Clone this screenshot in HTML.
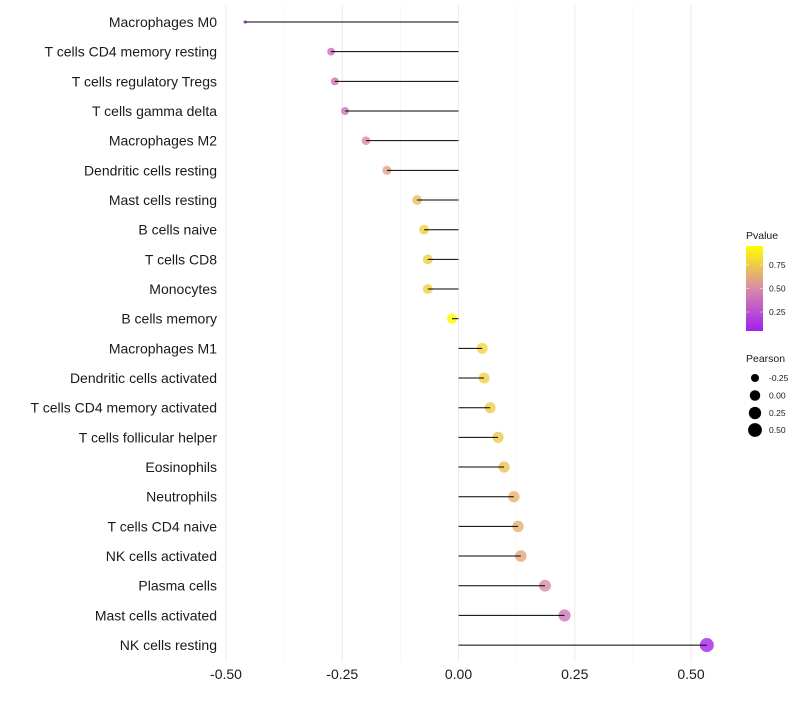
<!DOCTYPE html>
<html><head><meta charset="utf-8"><style>
body{margin:0;background:#fff;font-family:"Liberation Sans",sans-serif}
svg text{font-family:"Liberation Sans",sans-serif}
</style></head><body>
<svg id="chart" width="800" height="700">
<defs><linearGradient id="pg" x1="0" y1="1" x2="0" y2="0">
<stop offset="0" stop-color="#a020f0"/><stop offset="0.5" stop-color="#d98aa6"/><stop offset="1" stop-color="#ffff00"/></linearGradient></defs>
<g id="grid"></g><g id="dots"></g><g id="marks"></g><g id="labels"></g><g id="legend"></g>
</svg>
<script>
const categories=["Macrophages M0","T cells CD4 memory resting","T cells regulatory  Tregs ","T cells gamma delta","Macrophages M2","Dendritic cells resting","Mast cells resting","B cells naive","T cells CD8","Monocytes","B cells memory","Macrophages M1","Dendritic cells activated","T cells CD4 memory activated","T cells follicular helper","Eosinophils","Neutrophils","T cells CD4 naive","NK cells activated","Plasma cells","Mast cells activated","NK cells resting"];
const pearson=[-0.459,-0.274,-0.266,-0.244,-0.199,-0.154,-0.089,-0.074,-0.066,-0.066,-0.014,0.051,0.055,0.068,0.085,0.098,0.119,0.128,0.134,0.186,0.228,0.534];
const pvalue=[0.05,0.35,0.38,0.4,0.5,0.6,0.72,0.8,0.8,0.8,0.99,0.82,0.8,0.78,0.76,0.74,0.68,0.66,0.63,0.5,0.4,0.02];
const xTicks=[-0.5,-0.25,0,0.25,0.5];
const xTickLabels=["-0.50","-0.25","0.00","0.25","0.50"];
const ns="http://www.w3.org/2000/svg";
const X=v=>458.5+v*465;
const Y=i=>22+i*29.67;
const R=v=>1.5+5.5*Math.sqrt(Math.max(0,(v+0.46)/0.99));
function lerp(a,b,t){return a.map((x,k)=>Math.round(x+(b[k]-x)*t));}
function col(p){const s=[[160,32,240],[217,138,166],[255,255,0]];let c=p<0.5?lerp(s[0],s[1],p/0.5):lerp(s[1],s[2],(p-0.5)/0.5);return `rgb(${c})`;}
function mk(t,a,parent){const e=document.createElementNS(ns,t);for(const k in a)e.setAttribute(k,a[k]);document.getElementById(parent).appendChild(e);return e;}
for(let v=-0.5;v<=0.5001;v+=0.125){const l=mk('line',{x1:X(v),x2:X(v),y1:5,y2:662,stroke:Math.abs((v*4)%1)<1e-6?'#ebebeb':'#f4f4f4','stroke-width':Math.abs((v*4)%1)<1e-6?1:0.6},'grid');

}
xTicks.forEach((v,i)=>{const t=mk('text',{x:X(v),y:679,'text-anchor':'middle','font-size':14,fill:'#1a1a1a'},'labels');t.textContent=xTickLabels[i];

});
categories.forEach((c,i)=>{
const t=mk('text',{x:217,y:Y(i)+5,'text-anchor':'end','font-size':14,fill:'#1a1a1a'},'labels');t.textContent=c;


const d=mk('circle',{cx:X(pearson[i]),cy:Y(i),r:R(pearson[i]),fill:col(pvalue[i]),'fill-opacity':0.8},'dots');


const l=mk('line',{x1:X(0),x2:X(pearson[i]),y1:Y(i),y2:Y(i),stroke:'#000','stroke-width':1},'marks');


});
const lg='legend';
let e=mk('text',{x:746,y:239,'font-size':10.5,fill:'#1a1a1a'},lg);e.textContent='Pvalue';


e=mk('rect',{x:746,y:246,width:17,height:85,fill:'url(#pg)'},lg);


[[0.75,265],[0.5,288.5],[0.25,312]].forEach(([v,y])=>{
mk('line',{x1:746,x2:749,y1:y,y2:y,stroke:'#fff','stroke-width':0.5},lg);mk('line',{x1:760,x2:763,y1:y,y2:y,stroke:'#fff','stroke-width':0.5},lg);
const t=mk('text',{x:769,y:y+3,'font-size':8.5,fill:'#1a1a1a'},lg);t.textContent=v.toFixed(2);

});
e=mk('text',{x:746,y:362,'font-size':10.5,fill:'#1a1a1a'},lg);e.textContent='Pearson';


[[-0.25,378,"-0.25"],[0,395.5,"0.00"],[0.25,413,"0.25"],[0.5,430,"0.50"]].forEach(([v,y,s])=>{
const c=mk('circle',{cx:755,cy:y,r:R(v),fill:'#000'},lg);


const t=mk('text',{x:769,y:y+3,'font-size':8.5,fill:'#1a1a1a'},lg);t.textContent=s;

});
</script>
</body></html>
